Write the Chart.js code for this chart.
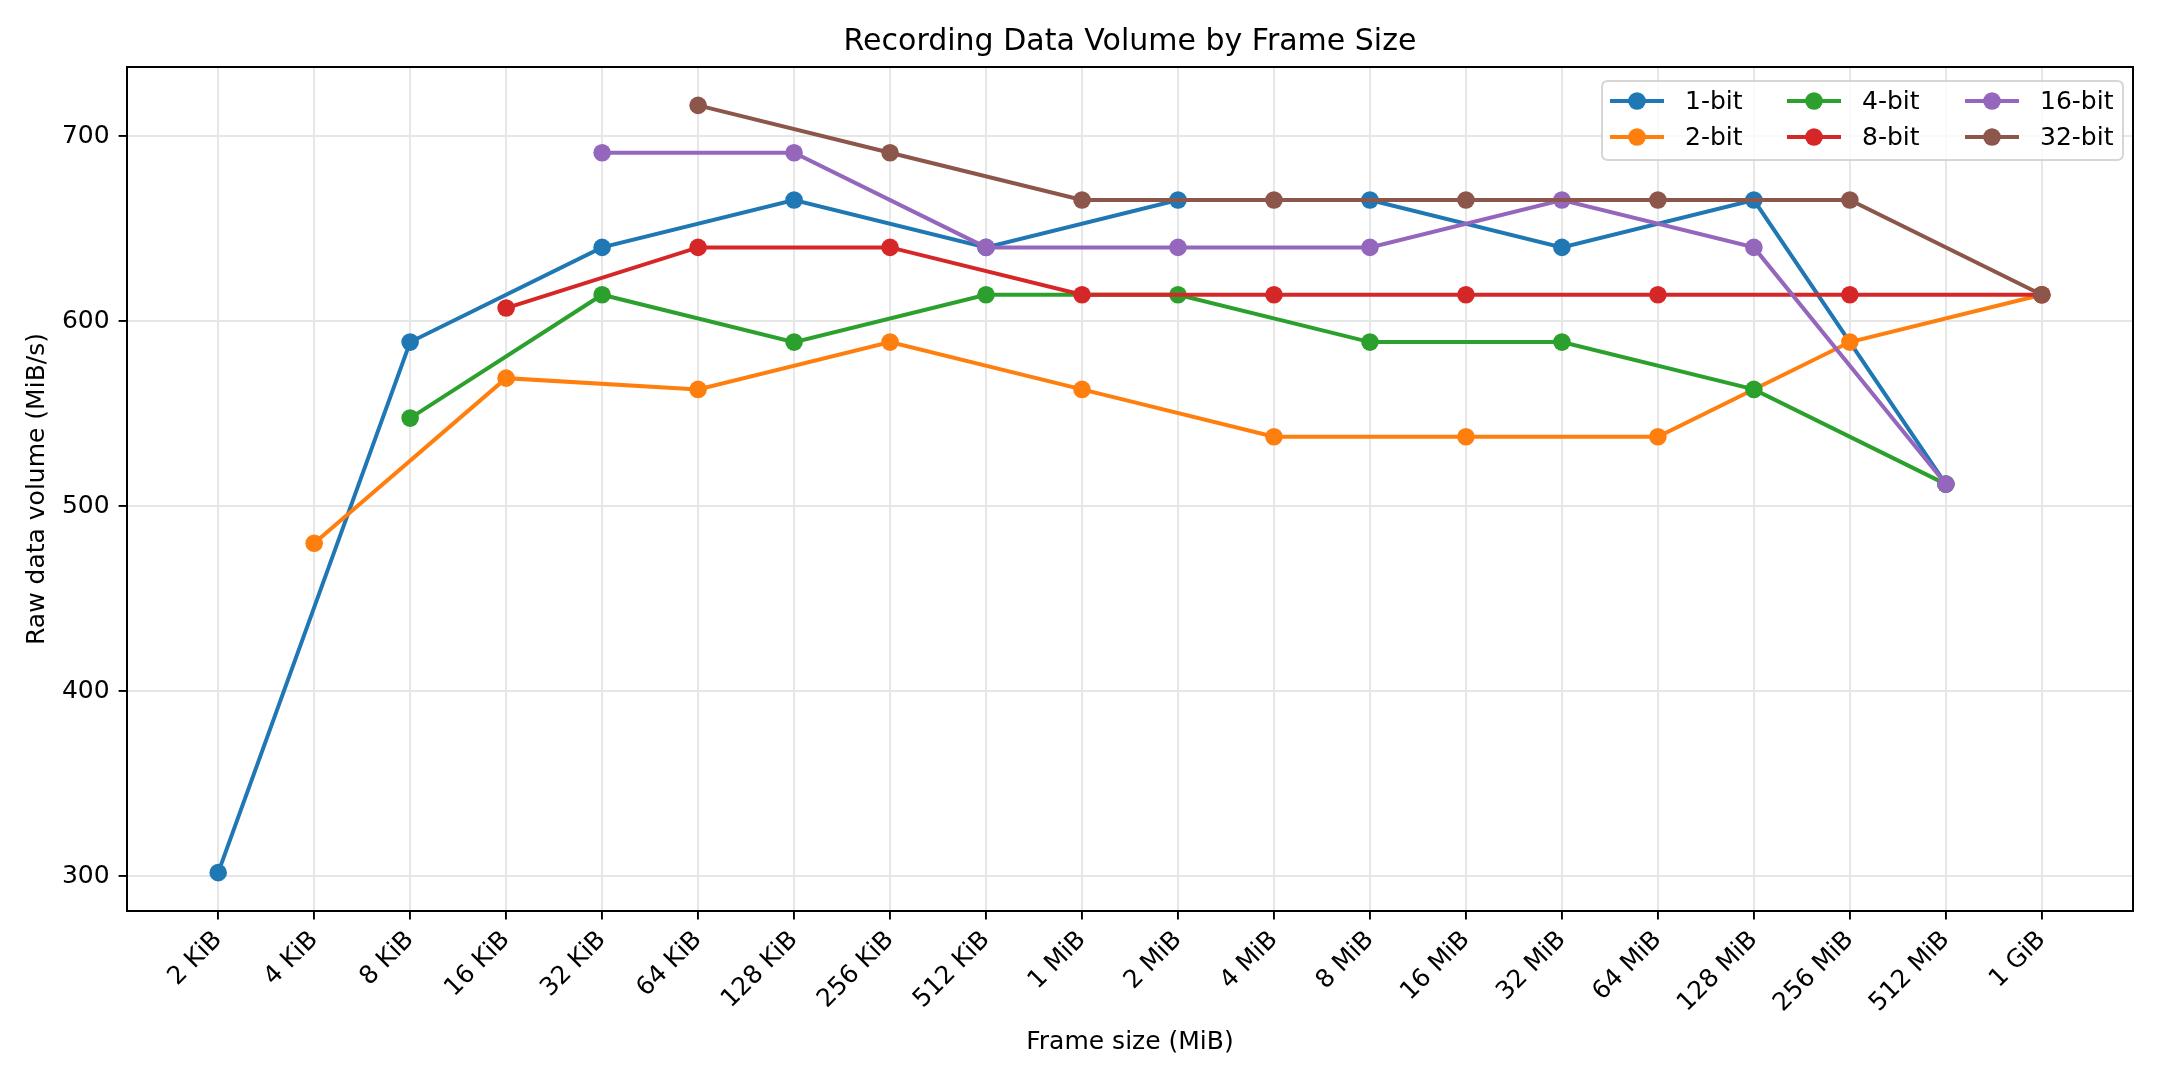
<!DOCTYPE html>
<html>
<head>
<meta charset="utf-8">
<script src="https://cdn.jsdelivr.net/npm/chart.js@4.4.0/dist/chart.umd.min.js"></script>
<style>
html,body{margin:0;padding:0;background:#ffffff;}
canvas{display:block;}
</style>
</head>
<body>
<canvas id="c" width="2160" height="1080"></canvas>
<script>
const categories = ['2 KiB','4 KiB','8 KiB','16 KiB','32 KiB','64 KiB','128 KiB','256 KiB','512 KiB','1 MiB','2 MiB','4 MiB','8 MiB','16 MiB','32 MiB','64 MiB','128 MiB','256 MiB','512 MiB','1 GiB'];
const yTicks = [300, 400, 500, 600, 700];

const bit1  = [301.9, null, 588.8, null, 640.0, null, 665.6, null, 640.0, null, 665.6, null, 665.6, null, 640.0, null, 665.6, null, 512.0, null];
const bit2  = [null, 480.0, null, 569.3, null, 563.2, null, 588.8, null, 563.2, null, 537.6, null, 537.6, null, 537.6, null, 588.8, null, 614.4];
const bit4  = [null, null, 547.7, null, 614.4, null, 588.8, null, 614.4, null, 614.4, null, 588.8, null, 588.8, null, 563.2, null, 512.0, null];
const bit8  = [null, null, null, 607.2, null, 640.0, null, 640.0, null, 614.4, null, 614.4, null, 614.4, null, 614.4, null, 614.4, null, 614.4];
const bit16 = [null, null, null, null, 691.2, null, 691.2, null, 640.0, null, 640.0, null, 640.0, null, 665.6, null, 640.0, null, 512.0, null];
const bit32 = [null, null, null, null, null, 716.8, null, 691.2, null, 665.6, null, 665.6, null, 665.6, null, 665.6, null, 665.6, null, 614.4];

const seriesLabels = ['1-bit', '2-bit', '4-bit', '8-bit', '16-bit', '32-bit'];
const seriesValues = [bit1, bit2, bit4, bit8, bit16, bit32];
const seriesColors = ['#1f77b4', '#ff7f0e', '#2ca02c', '#d62728', '#9467bd', '#8c564b'];

const FONT = "'DejaVu Sans', 'Liberation Sans', sans-serif";
const FS = 25;
Chart.defaults.font.family = FONT;
Chart.defaults.color = '#000000';

function toPoints(arr) {
  return arr.map((v, i) => (v === null ? null : { x: i, y: v })).filter(p => p !== null);
}

const LW = 4;
const PR = 8.8;

const datasets = seriesValues.map((vals, i) => ({
  label: seriesLabels[i],
  data: toPoints(vals),
  borderColor: seriesColors[i],
  backgroundColor: seriesColors[i],
  pointBackgroundColor: seriesColors[i],
  pointBorderColor: seriesColors[i],
  borderWidth: LW,
  pointRadius: PR,
  pointBorderWidth: 0,
  pointHoverRadius: PR,
  tension: 0,
  fill: false,
  order: seriesLabels.length - 1 - i
}));

const framePlugin = {
  id: 'frameAndLegend',
  afterDraw(chart) {
    const ctx = chart.ctx;
    const a = chart.chartArea;
    ctx.save();
    ctx.strokeStyle = '#000000';
    ctx.lineWidth = 2;
    ctx.strokeRect(a.left, a.top, a.right - a.left, a.bottom - a.top);

    // legend box (matplotlib style, upper right, 3 columns)
    const bx = a.right - 531, by = a.top + 14, bw = 521, bh = 79, r = 6;
    ctx.beginPath();
    ctx.moveTo(bx + r, by);
    ctx.lineTo(bx + bw - r, by);
    ctx.quadraticCurveTo(bx + bw, by, bx + bw, by + r);
    ctx.lineTo(bx + bw, by + bh - r);
    ctx.quadraticCurveTo(bx + bw, by + bh, bx + bw - r, by + bh);
    ctx.lineTo(bx + r, by + bh);
    ctx.quadraticCurveTo(bx, by + bh, bx, by + bh - r);
    ctx.lineTo(bx, by + r);
    ctx.quadraticCurveTo(bx, by, bx + r, by);
    ctx.closePath();
    ctx.fillStyle = 'rgba(255,255,255,0.8)';
    ctx.fill();
    ctx.strokeStyle = 'rgba(204,204,204,0.8)';
    ctx.lineWidth = 2;
    ctx.stroke();

    const colX = [bx + 8, bx + 185, bx + 363];
    const rowY = [by + 20, by + 56];
    ctx.font = FS + 'px ' + FONT;
    ctx.textBaseline = 'middle';
    ctx.textAlign = 'left';
    chart.data.datasets.forEach((ds, k) => {
      const col = Math.floor(k / 2), row = k % 2;
      const x0 = colX[col], y0 = rowY[row];
      ctx.strokeStyle = ds.borderColor;
      ctx.lineWidth = LW;
      ctx.lineCap = 'butt';
      ctx.beginPath();
      ctx.moveTo(x0, y0);
      ctx.lineTo(x0 + 54, y0);
      ctx.stroke();
      ctx.fillStyle = ds.borderColor;
      ctx.beginPath();
      ctx.arc(x0 + 27, y0, PR, 0, Math.PI * 2);
      ctx.fill();
      ctx.fillStyle = '#000000';
      ctx.fillText(ds.label, x0 + 75, y0 + 1);
    });
    ctx.restore();
  }
};

new Chart(document.getElementById('c'), {
  type: 'line',
  data: { datasets },
  plugins: [framePlugin],
  options: {
    responsive: false,
    animation: false,
    devicePixelRatio: 1,
    layout: { padding: { left: 0, right: 27, top: 0, bottom: 0 } },
    plugins: {
      legend: { display: false },
      tooltip: { enabled: false },
      title: {
        display: true,
        fullSize: false,
        text: 'Recording Data Volume by Frame Size',
        color: '#000000',
        font: { size: 30, weight: 'normal', family: FONT },
        padding: { top: 24, bottom: 7 }
      }
    },
    scales: {
      x: {
        type: 'linear',
        min: -0.95,
        max: 19.95,
        afterBuildTicks: (scale) => { scale.ticks = categories.map((c, i) => ({ value: i })); },
        afterFit: (scale) => { scale.height = 169; },
        ticks: {
          autoSkip: false,
          maxRotation: 45,
          minRotation: 45,
          padding: 6,
          color: '#000000',
          font: { size: FS, family: FONT },
          callback: (v) => categories[v]
        },
        grid: {
          color: '#e6e6e6',
          lineWidth: 1.9,
          tickColor: '#000000',
          tickLength: 8.4,
          tickWidth: 1.9
        },
        border: { display: true, color: '#000000', width: 2 },
        title: {
          display: true,
          text: 'Frame size (MiB)',
          color: '#000000',
          font: { size: FS, family: FONT },
          padding: { top: 0, bottom: 23 }
        }
      },
      y: {
        type: 'linear',
        min: 281.15,
        max: 737.55,
        afterBuildTicks: (scale) => { scale.ticks = yTicks.map(v => ({ value: v })); },
        afterFit: (scale) => { scale.width = 127; },
        ticks: {
          padding: 9,
          color: '#000000',
          font: { size: FS, family: FONT },
          callback: (v) => String(v)
        },
        grid: {
          color: '#e6e6e6',
          lineWidth: 1.9,
          tickColor: '#000000',
          tickLength: 8.4,
          tickWidth: 1.9
        },
        border: { display: true, color: '#000000', width: 2 },
        title: {
          display: true,
          text: 'Raw data volume (MiB/s)',
          color: '#000000',
          font: { size: FS, family: FONT },
          padding: { top: 22, bottom: 0 }
        }
      }
    }
  }
});
</script>
</body>
</html>
